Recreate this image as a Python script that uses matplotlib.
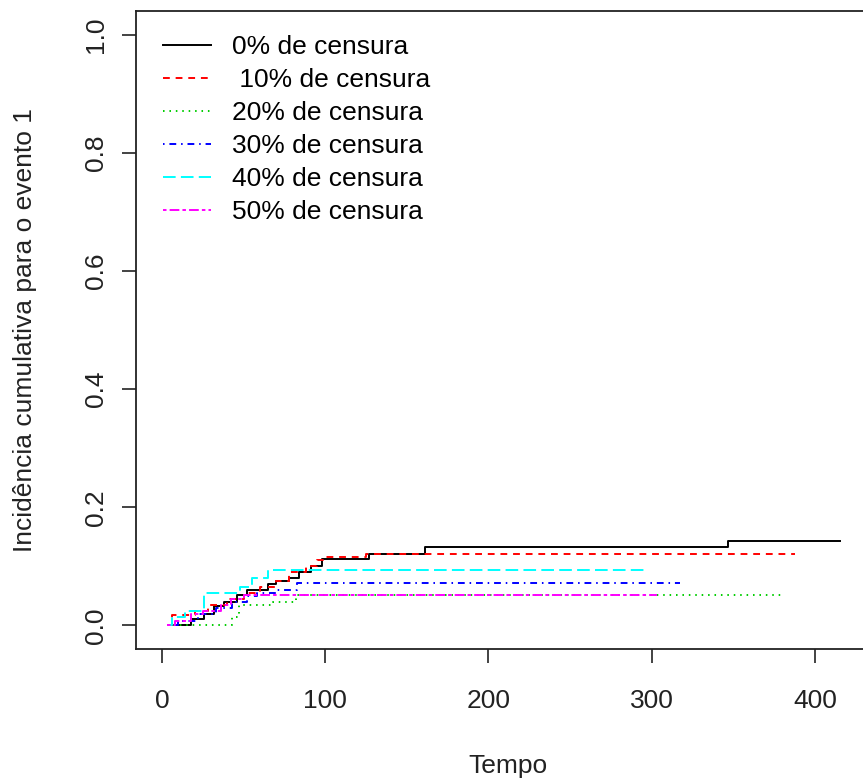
import matplotlib
matplotlib.use("Agg")
import matplotlib.pyplot as plt

plt.rcParams["font.family"] = ["Liberation Sans", "DejaVu Sans"]

# cumulative incidence step curves, one per censoring level
t_0 = [5, 18, 26, 32, 38, 46, 52, 65, 70, 78, 84, 91, 98, 127, 161, 347, 415]
ci_0 = [0.0, 0.01, 0.02, 0.032, 0.04, 0.052, 0.06, 0.07, 0.075, 0.08, 0.09, 0.1,
        0.113, 0.12, 0.133, 0.142, 0.142]

t_10 = [3, 6, 20, 28, 40, 50, 60, 70, 78, 88, 95, 100, 125, 388]
ci_10 = [0.0, 0.018, 0.025, 0.035, 0.045, 0.055, 0.065, 0.075, 0.09, 0.1, 0.11,
         0.115, 0.12, 0.12]

t_20 = [3, 42, 43, 47, 68, 82, 381]
ci_20 = [0.0, 0.0, 0.015, 0.035, 0.04, 0.052, 0.052]

t_30 = [4, 10, 22, 33, 43, 52, 58, 70, 83, 317]
ci_30 = [0.0, 0.008, 0.02, 0.03, 0.04, 0.05, 0.055, 0.06, 0.072, 0.072]

t_40 = [3, 6, 14, 26, 48, 55, 65, 297]
ci_40 = [0.0, 0.015, 0.025, 0.055, 0.065, 0.08, 0.093, 0.093]

t_50 = [3, 8, 18, 25, 36, 42, 50, 303]
ci_50 = [0.0, 0.008, 0.02, 0.025, 0.035, 0.045, 0.052, 0.052]

labels = ["0% de censura", " 10% de censura", "20% de censura",
          "30% de censura", "40% de censura", "50% de censura"]
x_ticks = [0, 100, 200, 300, 400]
y_ticks = [0.0, 0.2, 0.4, 0.6, 0.8, 1.0]

series = [(t_0, ci_0), (t_10, ci_10), (t_20, ci_20),
          (t_30, ci_30), (t_40, ci_40), (t_50, ci_50)]
colors = ["black", "#FF0000", "#00CD00", "#0000FF", "#00FFFF", "#FF00FF"]
dashes = [None, (3.5, 3), (0.8, 2.5), (0.8, 2.5, 3.5, 2.5), (6.5, 2.7),
          (1.8, 1.6, 5, 1.6)]

W, H = 863, 781
fig = plt.figure(figsize=(W / 100, H / 100), dpi=100)
# right edge of the frame falls outside the picture, as in the original
ax = fig.add_axes([136 / W, 1 - 649 / H, 744 / W, 638 / H])

for (t, ci), c, d, lab in zip(series, colors, dashes, labels):
    line, = ax.step(t, ci, where="post", color=c, lw=1.4, label=lab)
    if d is not None:
        line.set_dashes(d)

ax.set_xlim(-15.9, 439.8)
ax.set_ylim(-0.04, 1.04)
ax.set_xticks(x_ticks)
ax.set_xticklabels([str(v) for v in x_ticks])
ax.set_yticks(y_ticks)
ax.set_yticklabels([f"{v:.1f}" for v in y_ticks], rotation=90, va="center")
ax.tick_params(length=10, width=1.2, labelsize=19, color="#222222", labelcolor="#222222")
ax.tick_params(axis="x", pad=19)
ax.tick_params(axis="y", pad=10)
for sp in ax.spines.values():
    sp.set_linewidth(1.3)
    sp.set_color("#222222")
ax.spines["right"].set_visible(False)

ax.set_xlabel("Tempo", fontsize=19, labelpad=29, color="#222222")
ax.set_ylabel("Incidência cumulativa para o evento 1", fontsize=19, labelpad=34,
              color="#222222")

ax.legend(loc="upper left", bbox_to_anchor=(163 / W, 1 - 35 / H),
          bbox_transform=fig.transFigure, frameon=False, fontsize=19,
          handlelength=1.8, handletextpad=0.8, labelspacing=0.34,
          borderaxespad=0, borderpad=0)

fig.savefig("out.png", dpi=100)
